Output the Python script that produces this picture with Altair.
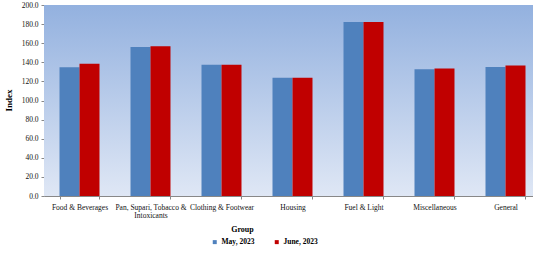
import altair as alt
import pandas as pd

groups = ["Food & Beverages", "Pan, Supari, Tobacco & Intoxicants", "Clothing & Footwear",
          "Housing", "Fuel & Light", "Miscellaneous", "General"]
may_2023 = [134.7, 156.0, 137.4, 123.8, 182.2, 132.6, 135.0]
june_2023 = [138.4, 156.7, 137.4, 123.8, 182.2, 133.6, 136.7]
series = ["May, 2023", "June, 2023"]
y_ticks = [0, 20, 40, 60, 80, 100, 120, 140, 160, 180, 200]

rows = []
for g, a, b in zip(groups, may_2023, june_2023):
    rows.append({"Group": g, "Month": series[0], "Index": a})
    rows.append({"Group": g, "Month": series[1], "Index": b})
df = pd.DataFrame(rows)

W, H = 489, 191
FONT = "Liberation Serif"

bg = alt.Chart(alt.Data(values=[{}])).mark_rect(
    color=alt.Gradient(
        gradient="linear",
        stops=[alt.GradientStop(color="#93b1df", offset=0),
               alt.GradientStop(color="#dfe7f5", offset=1)],
        x1=0, x2=0, y1=0, y2=1,
    )
).encode(x=alt.value(0), x2=alt.value(497), y=alt.value(0), y2=alt.value(H))

label_expr = ("datum.label == 'Pan, Supari, Tobacco & Intoxicants' ? "
              "['Pan, Supari, Tobacco &', 'Intoxicants'] : datum.label")

bars = alt.Chart(df).mark_bar(size=20).encode(
    x=alt.X("Group:N", sort=groups,
            scale=alt.Scale(range=[0, 497], paddingInner=0.437, paddingOuter=0.2185),
            axis=alt.Axis(title="Group", labelAngle=0, labelExpr=label_expr,
                          tickBand="extent", tickSize=3, tickColor="#888888",
                          domainColor="#888888", labelFont=FONT, labelFontWeight="normal",
                          labelFontSize=7.5, labelColor="#111111", labelPadding=4,
                          labelLineHeight=8,
                          titleFont=FONT, titleFontWeight="bold", titleFontSize=8,
                          titleColor="#000000", titleX=198, titleY=33,
                          titleBaseline="middle")),
    xOffset=alt.XOffset("Month:N", sort=series,
                        scale=alt.Scale(paddingInner=0, paddingOuter=0)),
    y=alt.Y("Index:Q", scale=alt.Scale(domain=[0, 200], nice=False),
            axis=alt.Axis(title="Index", values=y_ticks, format=".1f", grid=False,
                          tickSize=3, tickColor="#888888", domainColor="#888888",
                          labelFont=FONT, labelFontWeight="normal", labelFontSize=7.5,
                          labelColor="#111111", labelPadding=3,
                          titleFont=FONT, titleFontWeight="bold", titleFontSize=9,
                          titleColor="#000000", titleX=-36, titleY=95,
                          titleBaseline="middle")),
    color=alt.Color("Month:N", sort=series,
                    scale=alt.Scale(domain=series, range=["#4f81bd", "#c00000"]),
                    legend=alt.Legend(title=None, orient="none", direction="horizontal",
                                      legendX=167, legendY=233, symbolType="square",
                                      symbolSize=16, symbolStrokeWidth=0,
                                      labelFont=FONT, labelFontWeight="bold",
                                      labelFontSize=7.5, labelColor="#000000",
                                      columnPadding=18, labelOffset=3)),
)

chart = alt.layer(bg, bars).properties(
    width=W, height=H,
    autosize=alt.AutoSizeParams(type="none"),
    padding={"left": 44, "top": 5, "right": 0, "bottom": 65},
).configure_view(stroke=None)

chart.save("out.html", embed_options={"renderer": "svg", "actions": False})
